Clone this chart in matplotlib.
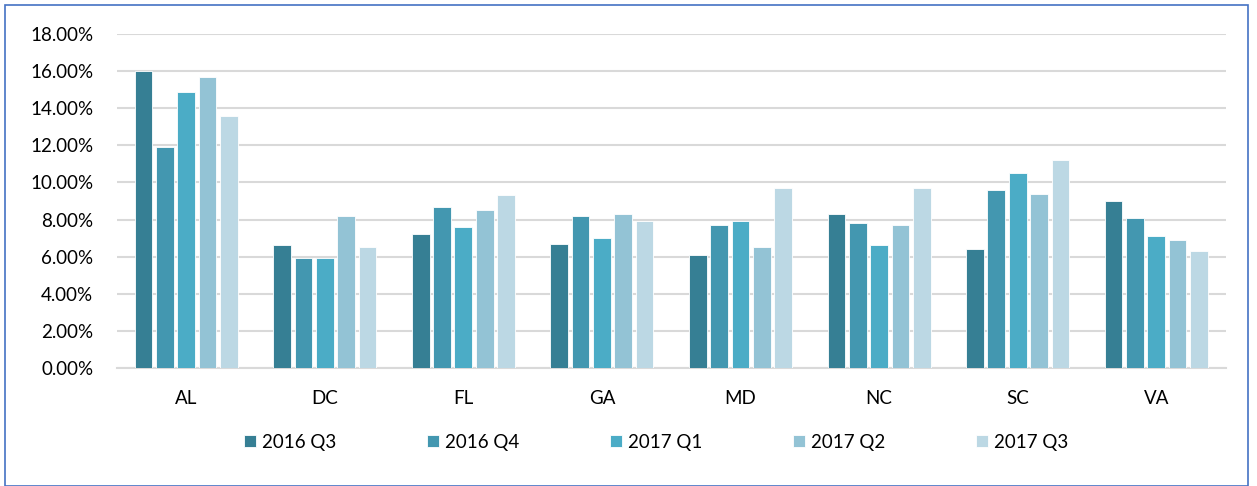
import matplotlib
matplotlib.use("Agg")
import matplotlib.pyplot as plt
import numpy as np
from matplotlib.patches import Rectangle
from matplotlib.ticker import FuncFormatter

states = ["AL", "DC", "FL", "GA", "MD", "NC", "SC", "VA"]
series_names = ["2016 Q3", "2016 Q4", "2017 Q1", "2017 Q2", "2017 Q3"]
q3_2016 = [16.0, 6.6, 7.2, 6.7, 6.1, 8.3, 6.4, 9.0]
q4_2016 = [11.9, 5.9, 8.7, 8.2, 7.7, 7.8, 9.6, 8.1]
q1_2017 = [14.9, 5.9, 7.6, 7.0, 7.9, 6.6, 10.5, 7.1]
q2_2017 = [15.7, 8.2, 8.5, 8.3, 6.5, 7.7, 9.4, 6.9]
q3_2017 = [13.6, 6.5, 9.3, 7.9, 9.7, 9.7, 11.2, 6.3]
series = [q3_2016, q4_2016, q1_2017, q2_2017, q3_2017]
colors = ["#367F94", "#4397B0", "#4BACC6", "#93C3D5", "#BCD8E4"]
yticks = [0, 2, 4, 6, 8, 10, 12, 14, 16, 18]

plt.rcParams['font.family'] = ['Lato', 'DejaVu Sans']

fig = plt.figure(figsize=(12.57, 4.86), dpi=100)
ax = fig.add_axes([0.093, 0.243, 0.882, 0.687])

x = np.arange(len(states))
step = 0.154
width = 0.128
for i, (vals, c, name) in enumerate(zip(series, colors, series_names)):
    ax.bar(x + (i - 2) * step, vals, width=width, color=c, edgecolor='white',
           linewidth=0.6, label=name, zorder=3)

ax.set_xlim(-0.5, len(states) - 0.5)
ax.set_ylim(0, 18)
ax.set_yticks(yticks)
ax.yaxis.set_major_formatter(FuncFormatter(lambda v, p: f"{v:.2f}%"))
ax.set_xticks(x)
ax.set_xticklabels(states)
ax.tick_params(axis='both', length=0, labelsize=13.5, colors='#000000')
ax.tick_params(axis='y', pad=17)
ax.tick_params(axis='x', pad=16)
ax.grid(axis='y', color='#D9D9D9', linewidth=1.5, zorder=0)
for s in ['top', 'right', 'left']:
    ax.spines[s].set_visible(False)
ax.spines['bottom'].set_color('#D9D9D9')
ax.spines['bottom'].set_linewidth(1.5)

leg = fig.legend(loc='center', bbox_to_anchor=(0.522, 0.09), ncol=5, frameon=False,
                 fontsize=13.5, handlelength=0.65, handleheight=0.65, handletextpad=0.3,
                 columnspacing=4.85)

fig.patches.append(Rectangle((0.004, 0.0), 0.989, 0.99, transform=fig.transFigure,
                             fill=False, edgecolor='#4472C4', linewidth=1.2))

fig.savefig("out.png", dpi=100, facecolor='white')
